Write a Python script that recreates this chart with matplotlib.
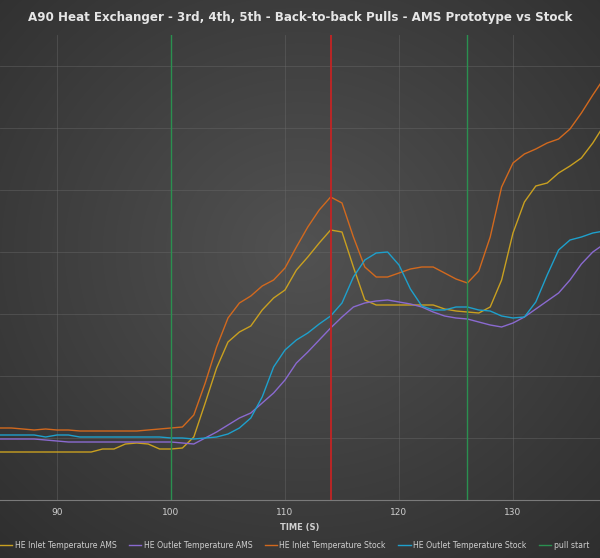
import numpy as np
import matplotlib
matplotlib.use("Agg")
import matplotlib.pyplot as plt

time = list(range(85, 139))
inlet_ams = [48]*9 + [51,51,56,57,56,51,51,52,63,97,
             132,158,168,174,190,202,210,230,243,257,
             270,268,233,200,195,195,195,195,195,195,
             191,189,188,187,193,220,267,298,314,317,
             327,334,342,357,375]
outlet_ams = [61,61,61,61,60,59,58,58,58,58,
              58,58,58,58,58,58,57,56,62,68,
              75,82,87,97,107,120,137,148,160,172,
              183,193,197,199,200,198,196,193,188,184,
              182,181,178,175,173,177,183,191,199,207,
              220,236,248,256]
inlet_stock = [72,72,71,70,71,70,70,69,69,69,
               69,69,69,70,71,72,73,85,117,153,
               182,197,204,214,220,232,253,273,290,303,
               297,263,233,223,223,227,231,233,233,227,
               221,217,229,263,313,337,346,351,357,361,
               371,387,405,422]
outlet_stock = [65,65,65,65,63,65,65,63,63,63,
                63,63,63,63,63,62,62,61,62,63,
                66,72,82,103,133,150,160,167,176,184,
                197,223,240,247,248,235,211,194,190,190,
                193,193,190,189,184,182,183,198,225,250,
                260,263,267,269]
pull_start = [100, 126]
pull_end = [114]

W, H = 600, 558
fig = plt.figure(figsize=(W/100, H/100), dpi=100)

bg = fig.add_axes([0, 0, 1, 1])
yy, xx = np.mgrid[0:H, 0:W]
d = np.sqrt(((xx-300)/420.0)**2 + ((yy-250)/390.0)**2)
shade = 0.32 - 0.13*np.clip(d, 0, 1.3)
bg.imshow(np.dstack([shade]*3), aspect='auto', extent=[0, 1, 0, 1])
bg.axis('off')

ax = fig.add_axes([0, 58/H, 1, 465/H])
ax.patch.set_alpha(0)
ax.set_xlim(85, 85 + 600/11.4)
ax.set_ylim(0, 465)
ax.set_xticks([90, 100, 110, 120, 130])
ax.set_yticks(np.arange(62, 465, 62))
ax.grid(True, color='#6a6a6a', lw=0.6, alpha=0.5)
ax.tick_params(length=0, colors='#cfcfcf', labelsize=6.5, pad=6)
ax.set_yticklabels([])
for s in ['top', 'right', 'left']:
    ax.spines[s].set_visible(False)
ax.spines['bottom'].set_color('#7a7a7a')
ax.spines['bottom'].set_linewidth(0.8)

lw = 1.0
ax.plot(time, inlet_ams, color='#c9a020', lw=lw, label='HE Inlet Temperature AMS')
ax.plot(time, outlet_ams, color='#8a6ad0', lw=lw, label='HE Outlet Temperature AMS')
ax.plot(time, inlet_stock, color='#d2691e', lw=lw, label='HE Inlet Temperature Stock')
ax.plot(time, outlet_stock, color='#1ea0cc', lw=lw, label='HE Outlet Temperature Stock')
for i, x in enumerate(pull_start):
    ax.axvline(x, color='#2a9050', lw=1.0, label='pull start' if i == 0 else None)
for i, x in enumerate(pull_end):
    ax.axvline(x, color='#c42424', lw=1.3, label='pull end' if i == 0 else None)

ax.set_xlabel('TIME (S)', color='#d0d0d0', fontsize=6, fontweight='bold', labelpad=4)

fig.text(0.5, 1 - 17/H, 'A90 Heat Exchanger - 3rd, 4th, 5th - Back-to-back Pulls - AMS Prototype vs Stock',
         ha='center', va='center', color='#e6e6e6', fontsize=8.6, fontweight='bold')

fig.legend(loc='center left', bbox_to_anchor=(-0.012, 1 - 545/H), ncol=6, frameon=False,
           fontsize=5.6, labelcolor='#cfcfcf', handlelength=1.6, columnspacing=1.6, handletextpad=0.3)

fig.savefig('out.png', dpi=100)
